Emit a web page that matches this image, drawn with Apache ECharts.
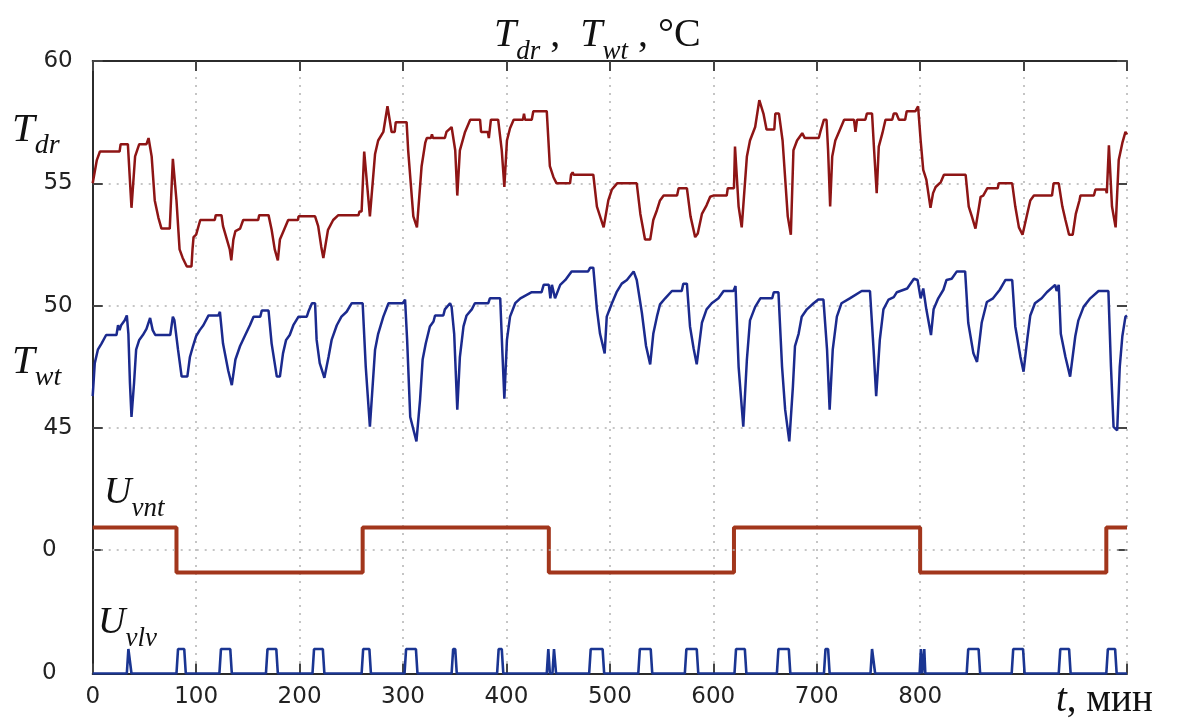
<!DOCTYPE html>
<html>
<head>
<meta charset="utf-8">
<script src="https://cdn.jsdelivr.net/npm/echarts@6/dist/echarts.min.js"></script>
<style>
  html, body { margin: 0; padding: 0; background: #fff; }
  #chart { width: 1187px; height: 722px; }
</style>
</head>
<body>
<div id="chart"></div>
<script>
// Drying-chamber temperature T_dr and water temperature T_wt, °C, over time t (min)
const tDr = [
  [0,55.0],[4,55.95],[7,56.3],[26,56.3],[27,56.6],[34,56.6],[37.5,54.0],[41,56.1],[45,56.6],[52,56.6],[54,56.85],
  [57,56.1],[60,54.3],[63.5,53.6],[66.5,53.15],[74.5,53.15],[77.5,56.0],[81,54.3],[84,52.3],[87,51.95],[91,51.6],
  [95.5,51.6],[96.5,52.3],[97.5,52.8],[100,52.9],[104,53.5],[118,53.5],[119,53.7],[124.5,53.7],[126,53.25],
  [132.5,52.3],[134,51.85],[136,52.7],[138,53.05],[142.5,53.15],[145.5,53.5],[160,53.5],[161,53.7],[170,53.7],
  [173,53.1],[176,52.3],[179,51.85],[181,52.7],[184,53.0],[189,53.5],[198.5,53.5],[199,53.65],[215,53.65],
  [218,53.25],[221,52.4],[223,51.95],[227.5,53.1],[232.5,53.5],[237.5,53.7],[257,53.7],[258,53.85],[260,53.85],
  [262.5,56.3],[268,53.65],[273,56.2],[276,56.75],[281,57.1],[285,58.15],[289,57.1],[292,57.1],[293,57.5],
  [303.5,57.5],[305,56.35],[310,53.65],[313.5,53.2],[318,55.7],[321.5,56.65],[323,56.85],[327,56.85],[328,57.0],
  [329,56.85],[340.5,56.85],[342,57.1],[347,57.3],[350.5,56.35],[352.5,54.5],[355,56.35],[360,57.1],[365,57.6],
  [374.5,57.6],[375.5,57.1],[382,57.1],[383,56.85],[385,57.6],[392,57.6],[395.5,56.35],[398,54.85],[400.5,56.75],
  [403.5,57.25],[407,57.6],[416,57.6],[417,57.85],[418,57.6],[424.5,57.6],[426,57.95],[439,57.95],[442,55.7],
  [445.5,55.25],[448.5,55.0],[461.5,55.0],[462.5,55.35],[464,55.45],[465,55.35],[484,55.35],[487.5,54.05],
  [494,53.2],[498.5,54.3],[502,54.75],[507,55.0],[526,55.0],[529.5,53.75],[534,52.7],[539,52.7],[542,53.5],
  [545.5,53.9],[548.5,54.3],[552,54.5],[565,54.5],[566.5,54.8],[574.5,54.8],[578,53.65],[582.5,52.8],[585,52.95],
  [589,53.75],[593.5,54.1],[597,54.45],[600,54.5],[613,54.5],[614,54.8],[620,54.8],[621,56.5],[624.5,54.05],
  [627.5,53.2],[632.5,56.1],[635.5,56.75],[640.5,57.3],[644.5,58.4],[648.5,57.85],[651.5,57.2],[659,57.2],
  [660,57.85],[663.5,57.85],[667,56.75],[672,53.65],[675,52.9],[677.5,56.35],[681,56.75],[686,57.05],[687.5,57.1],
  [688.5,56.85],[702,56.85],[703.5,57.1],[707,57.6],[709.5,57.6],[711,56.35],[713,54.05],[715,56.1],[718,56.75],
  [721.5,57.1],[726.5,57.6],[736,57.6],[737.5,57.1],[739,57.6],[747,57.6],[748.5,57.85],[753.5,57.85],[755.5,56.35],
  [758,54.6],[760,56.5],[763.5,57.05],[766.5,57.6],[773,57.6],[774.5,57.85],[777,57.85],[779.5,57.6],[785.5,57.6],
  [787,57.95],[795.5,57.95],[798,58.15],[800.5,56.75],[803,55.55],[806,55.15],[810,54.0],[812.5,54.6],[815,54.85],
  [820,55.05],[823,55.35],[844,55.35],[847,54.05],[850,53.65],[853.5,53.15],[858.5,54.45],[861,54.5],[865,54.8],
  [875,54.8],[876,55.0],[889,55.0],[892,54.05],[895.5,53.2],[899,52.9],[903.5,53.75],[906.5,54.3],[910,54.5],
  [927.5,54.5],[929,55.0],[934,55.0],[937.5,54.05],[940.5,53.5],[944,52.9],[947.5,52.9],[950.5,53.75],[954,54.3],
  [955,54.5],[968,54.5],[969.5,54.75],[979.5,54.75],[980.5,54.6],[982.5,56.55],[985.5,54.05],[989,53.2],
  [992,55.95],[995.5,56.65],[998.5,57.1],[1000,57.0]
];

const tWt = [
  [0,46.3],[2,47.65],[5,48.2],[8.5,48.45],[13,48.8],[23,48.8],[24.5,49.2],[26,49.0],[27.5,49.2],[31,49.4],[33,49.6],
  [34.5,48.85],[36,46.85],[37.5,45.45],[40,46.85],[42,48.2],[45,48.6],[48.5,48.8],[52,49.05],[55.5,49.5],[58,49.0],
  [60.5,48.8],[75,48.8],[77.5,49.55],[79,49.4],[82.5,48.2],[86,47.1],[91.5,47.1],[94,47.9],[97,48.35],[100,48.75],
  [103.5,49.0],[107,49.2],[112,49.6],[121.5,49.6],[123,49.75],[126,48.45],[131,47.35],[134.5,46.75],[138,47.8],
  [142.5,48.35],[147.5,48.8],[152,49.2],[155.5,49.55],[162,49.55],[163.5,49.8],[170,49.8],[173,48.45],[178,47.1],
  [181,47.1],[184,48.05],[187,48.6],[190.5,48.8],[194,49.2],[199,49.55],[207,49.55],[208.5,49.75],[212,50.1],
  [215,50.1],[216.5,48.6],[219.5,47.65],[224,47.05],[228,47.9],[231,48.6],[236,49.2],[240.5,49.55],[245.5,49.75],
  [250.5,50.1],[261,50.1],[264,47.5],[268,45.05],[273,48.2],[276,48.85],[281,49.55],[286,50.1],[300,50.1],
  [302,50.25],[304,48.6],[307,45.45],[313,44.45],[316.5,46.15],[319,47.8],[322,48.45],[326,49.15],[329.5,49.35],
  [331,49.6],[339,49.6],[340.5,49.85],[345.5,50.1],[347,49.95],[349.5,48.85],[352.5,45.75],[355,47.9],[358.5,49.15],
  [361.5,49.6],[366.5,49.85],[369.5,50.1],[382.5,50.1],[384,50.3],[394,50.3],[396,48.2],[398,46.2],[400.5,48.6],
  [403.5,49.55],[408.5,50.1],[413.5,50.3],[424.5,50.55],[434,50.55],[436,50.85],[441,50.85],[442.5,50.3],
  [444,50.85],[447,50.3],[452,50.85],[457,51.05],[463,51.4],[479,51.4],[481,51.55],[484,51.55],[487.5,49.85],
  [490.5,48.85],[495,48.05],[497,49.55],[502,50.1],[506.5,50.55],[511.5,50.9],[516.5,51.05],[523,51.4],[526,51.05],
  [531,49.7],[535,48.35],[539,47.6],[542,48.85],[545.5,49.55],[548.5,50.05],[553.5,50.3],[560,50.6],[569.5,50.6],
  [571,50.9],[574.5,50.9],[577.5,49.15],[581,48.25],[584,47.6],[589,49.3],[593.5,49.85],[598.5,50.1],[605,50.3],
  [610,50.6],[619.5,50.6],[621.5,50.8],[624.5,47.5],[629,45.05],[632.5,47.8],[635.5,49.4],[640.5,49.95],
  [645.5,50.3],[657,50.3],[658.5,50.55],[663,50.55],[666.5,47.5],[669.5,45.75],[673.5,44.45],[677,46.7],
  [679,48.35],[682.5,48.85],[685.5,49.55],[690.5,49.85],[697,50.1],[701.5,50.25],[706.5,50.25],[710,48.2],
  [712.5,45.75],[715.5,48.2],[719.5,49.55],[724,50.1],[732,50.3],[743.5,50.6],[751.5,50.6],[755,48.2],[757.5,46.3],
  [761,48.6],[764.5,49.85],[769.5,50.25],[774.5,50.35],[777.5,50.55],[787.5,50.7],[794,51.1],[797.5,51.05],
  [800.5,50.3],[803,50.7],[806,49.85],[810.5,48.8],[813,49.85],[817.5,50.3],[822.5,50.65],[825.5,51.05],
  [830.5,51.1],[835.5,51.4],[843.5,51.4],[846.5,49.3],[851.5,48.05],[855,47.7],[859.5,49.3],[864.5,50.15],
  [870.5,50.3],[877,50.65],[882.5,51.05],[889,51.05],[892,49.15],[897,47.9],[900,47.3],[903.5,48.6],[906.5,49.6],
  [911,50.1],[917.5,50.3],[922.5,50.55],[930.5,50.85],[932,50.6],[934,50.85],[936,48.85],[940.5,47.9],[945,47.1],
  [950,48.75],[953,49.4],[958,49.95],[964.5,50.3],[972.5,50.6],[982,50.6],[984.5,47.5],[987,45.05],[990.5,44.9],
  [993,47.5],[995.5,48.75],[998.5,49.55],[1000,49.6]
];

// Fan control U_vnt: switching moments (min) and the level held from each of them
const vntSwitch = [0, 81, 261, 441, 620, 800, 980, 1000];
const vntLevel  = [1, -1, 1, -1, 1, -1, 1, 1];

// Valve control U_vlv: opening and closing moments (min)
const vlvOn  = [33, 81, 122.5, 167.5, 212.5, 260, 301.5, 347, 391, 439, 444.5, 480, 527.5, 572.5, 620.5,
                661.5, 707, 752, 799.5, 803, 845, 888.5, 934, 980];
const vlvOff = [37.5, 90, 134.5, 179, 224, 269, 314, 352, 397, 442, 448, 494.5, 541, 585.5, 632,
                674.5, 712.5, 756.5, 802, 805, 858, 901, 945.5, 990];

// Tick labels
const timeLabels = [0, 100, 200, 300, 400, 500, 600, 700, 800];
const tempLabels = [45, 50, 55, 60];

// ---- build series data ----
const vntData = vntSwitch.map((t, i) => [t, vntLevel[i]]);
const RAMP = 1.5;
const vlvData = [[0, 0]];
vlvOn.forEach((on, i) => {
  const off = vlvOff[i];
  const r = Math.min(RAMP, (off - on) / 2);
  vlvData.push([on, 0], [on + r, 1], [off - r, 1], [off, 0]);
});
vlvData.push([1000, 0]);

// ---- layout ----
const LEFT = 92.7, RIGHT = 60;
const AXIS_COLOR = '#2b2b2b';
const GRID_LINE = { type: [2, 6], color: '#b3b3b3', width: 1.5 };
const TICK_FONT = { fontFamily: 'DejaVu Sans', fontSize: 23, color: '#222' };
const SERIF = 'Liberation Serif';

const hiddenX = (gridIndex) => ({ gridIndex, type: 'value', min: 0, max: 1000, show: false });

// rich-text pieces: main italic letter sits at the top of the line, subscript at the bottom
const big = (s, lh) => ({ fontFamily: SERIF, fontStyle: 'italic', fontWeight: 'normal', fontSize: s,
                          lineHeight: lh, verticalAlign: 'top', color: '#111' });
const sub = (s) => ({ fontFamily: SERIF, fontStyle: 'italic', fontWeight: 'normal', fontSize: s,
                      verticalAlign: 'bottom', color: '#111' });
const plain = (s, lh) => ({ fontFamily: SERIF, fontWeight: 'normal', fontSize: s,
                            lineHeight: lh, verticalAlign: 'top', color: '#111' });

const option = {
  animation: false,
  backgroundColor: '#fff',
  title: [
    {
      text: '{T|T}{s|dr}{c| ,  }{T|T}{s|wt}{c| , °C}',
      left: 494, top: 15, padding: 0,
      textStyle: { rich: { T: big(40, 50), s: sub(27), c: plain(40, 50) } }
    },
    {
      text: '{T|T}{s|dr}', left: 12, top: 110, padding: 0,
      textStyle: { rich: { T: big(41, 50), s: sub(28) } }
    },
    {
      text: '{T|T}{s|wt}', left: 12, top: 342, padding: 0,
      textStyle: { rich: { T: big(41, 50), s: sub(28) } }
    },
    {
      text: '{T|U}{s|vnt}', left: 104, top: 474, padding: 0,
      textStyle: { rich: { T: big(38, 48), s: sub(27) } }
    },
    {
      text: '{T|U}{s|vlv}', left: 98, top: 604, padding: 0,
      textStyle: { rich: { T: big(38, 48), s: sub(27) } }
    },
    {
      text: '{t|t}{c|, мин}', left: 1056, top: 681, padding: 0,
      textStyle: { rich: {
        t: { fontFamily: SERIF, fontStyle: 'italic', fontWeight: 'normal', fontSize: 39, color: '#111' },
        c: { fontFamily: SERIF, fontWeight: 'normal', fontSize: 39, color: '#111' } } }
    }
  ],
  grid: [
    { left: LEFT, right: RIGHT, top: 61, bottom: 48.5 },   // 0: outer frame, time axes
    { left: LEFT, right: RIGHT, top: 61, height: 389 },    // 1: temperatures (data)
    { left: LEFT, right: RIGHT, top: 61, height: 367 },    // 2: temperature ticks 45..60
    { left: LEFT, right: RIGHT, top: 485, height: 95 },    // 3: U_vnt (data)
    { left: LEFT, right: RIGHT, top: 485, height: 82 },    // 4: U_vnt axis
    { left: LEFT, right: RIGHT, top: 603, bottom: 48.5 }   // 5: U_vlv
  ],
  xAxis: [
    {
      gridIndex: 0, type: 'value', position: 'bottom', min: 0, max: 1000, interval: 100,
      axisLine: { lineStyle: { color: AXIS_COLOR, width: 2 } },
      axisTick: { inside: true, length: 10, lineStyle: { color: '#444', width: 2 } },
      axisLabel: Object.assign({ margin: 12, formatter: (v) => timeLabels.includes(v) ? String(v) : '' }, TICK_FONT),
      splitLine: { show: true, lineStyle: GRID_LINE }
    },
    {
      gridIndex: 0, type: 'value', position: 'top', min: 0, max: 1000, interval: 100,
      axisLine: { lineStyle: { color: AXIS_COLOR, width: 2 } },
      axisTick: { inside: true, length: 10, lineStyle: { color: '#444', width: 2 } },
      axisLabel: { show: false }, splitLine: { show: false }
    },
    hiddenX(1), hiddenX(2), hiddenX(3), hiddenX(4), hiddenX(5)
  ],
  yAxis: [
    { // 0: right frame line
      gridIndex: 0, type: 'value', position: 'right', min: 0, max: 1,
      axisLine: { show: true, lineStyle: { color: AXIS_COLOR, width: 2 } },
      axisTick: { show: false }, axisLabel: { show: false }, splitLine: { show: false }
    },
    { // 1: temperature data scale, left line
      gridIndex: 1, type: 'value', position: 'left', min: 44.1, max: 60,
      axisLine: { show: true, lineStyle: { color: AXIS_COLOR, width: 2 } },
      axisTick: { show: false }, axisLabel: { show: false }, splitLine: { show: false }
    },
    { // 2: temperature ticks, left
      gridIndex: 2, type: 'value', position: 'left', min: 45, max: 60, interval: 5,
      axisLine: { show: false },
      axisTick: { inside: true, length: 10, lineStyle: { color: '#444', width: 2 } },
      axisLabel: Object.assign({ margin: 20, formatter: (v) => tempLabels.includes(v) ? String(v) : '' }, TICK_FONT),
      splitLine: { show: true, lineStyle: GRID_LINE }
    },
    { // 3: temperature ticks, right
      gridIndex: 2, type: 'value', position: 'right', min: 45, max: 60, interval: 5,
      axisLine: { show: false },
      axisTick: { inside: true, length: 10, lineStyle: { color: '#444', width: 2 } },
      axisLabel: { show: false }, splitLine: { show: false }
    },
    { // 4: U_vnt data scale
      gridIndex: 3, type: 'value', min: -1.333, max: 2.889, show: false
    },
    { // 5: U_vnt axis, left
      gridIndex: 4, type: 'value', position: 'left', min: -0.756, max: 2.889,
      axisLine: { show: true, lineStyle: { color: AXIS_COLOR, width: 2 } },
      axisTick: { inside: true, length: 10, customValues: [0], lineStyle: { color: '#444', width: 2 } },
      axisLabel: Object.assign({ margin: 36, customValues: [0], formatter: (v) => v === 0 ? '0' : '' }, TICK_FONT),
      splitLine: { show: false }
    },
    { // 6: U_vnt axis, right tick
      gridIndex: 4, type: 'value', position: 'right', min: -0.756, max: 2.889,
      axisLine: { show: false },
      axisTick: { inside: true, length: 10, customValues: [0], lineStyle: { color: '#444', width: 2 } },
      axisLabel: { show: false }, splitLine: { show: false }
    },
    { // 7: U_vlv
      gridIndex: 5, type: 'value', position: 'left', min: 0, max: 2.878, interval: 10,
      axisLine: { show: true, lineStyle: { color: AXIS_COLOR, width: 2 } },
      axisTick: { show: false },
      axisLabel: Object.assign({ margin: 36, formatter: (v) => v === 0 ? '0' : '' }, TICK_FONT),
      splitLine: { show: false }
    }
  ],
  series: [
    {
      name: 'T_dr', type: 'line', xAxisIndex: 2, yAxisIndex: 1, data: tDr,
      showSymbol: false, z: 4,
      lineStyle: { color: '#8e1515', width: 2.5 }
    },
    {
      name: 'T_wt', type: 'line', xAxisIndex: 2, yAxisIndex: 1, data: tWt,
      showSymbol: false, z: 4,
      lineStyle: { color: '#1b2a8e', width: 2.5 }
    },
    {
      name: 'U_vnt', type: 'line', xAxisIndex: 4, yAxisIndex: 4, data: vntData, step: 'end',
      showSymbol: false, z: 4,
      lineStyle: { color: '#a2361c', width: 4 },
      markLine: {
        silent: true, symbol: 'none', label: { show: false },
        lineStyle: GRID_LINE, data: [{ yAxis: 0 }]
      }
    },
    {
      name: 'U_vlv', type: 'line', xAxisIndex: 6, yAxisIndex: 7, data: vlvData,
      showSymbol: false, z: 4,
      lineStyle: { color: '#1a3592', width: 2.6 }
    }
  ]
};

const chart = echarts.init(document.getElementById('chart'), null, { renderer: 'canvas' });
chart.setOption(option);
</script>
</body>
</html>
